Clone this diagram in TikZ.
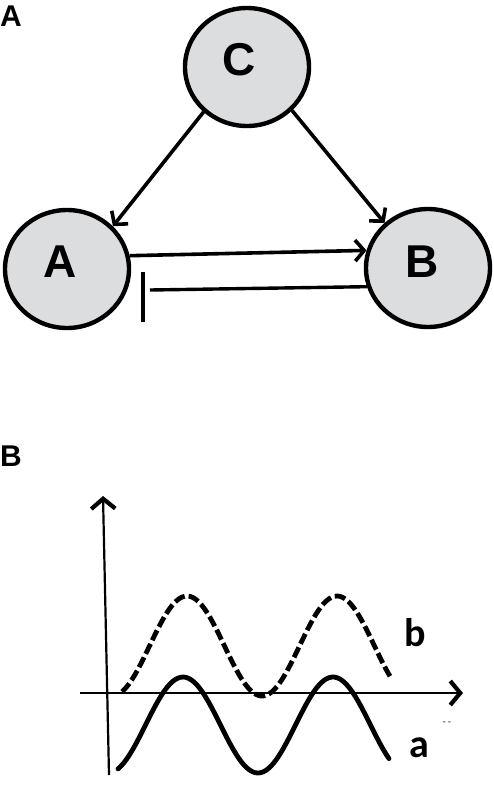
\documentclass[tikz,border=0pt]{standalone}
\usepackage{fontspec}
\setmainfont{Liberation Sans}
\newfontfamily\calfont{Carlito}
\usetikzlibrary{arrows.meta,shapes.geometric}
\definecolor{nodefill}{RGB}{220,221,223}
\tikzset{
  circ/.style={ellipse, draw=black, line width=4.4pt, fill=nodefill,
    minimum width=124pt, minimum height=118pt, inner sep=0pt},
  letter/.style={font=\fontsize{46}{46}\selectfont\bfseries, inner sep=0pt},
  panel/.style={font=\fontsize{30}{30}\selectfont\bfseries, inner sep=0pt, anchor=north west},
  conn/.style={line width=3.6pt, -{Straight Barb[length=9pt,width=21pt,line width=3.6pt]}},
  inhib/.style={line width=3.4pt},
  axis/.style={line width=2.2pt, -{Straight Barb[length=10pt,width=24pt,line width=4.2pt]}},
  curvea/.style={line width=4.8pt, line cap=round},
  curveb/.style={line width=4.8pt, dash pattern=on 11pt off 4pt},
  curvelab/.style={font=\calfont\fontsize{40}{40}\selectfont\bfseries, inner sep=0pt},
}
\begin{document}
\begin{tikzpicture}[x=1pt,y=-1pt]
\useasboundingbox (0,0) rectangle (494,788);
% Panel A
\node[panel] (pA) at (0,6) {A};
\node[circ, label={[letter,shift={(-8pt,7pt)}]center:C}] (C) at (247,67) {};
\node[circ, label={[letter,shift={(-7pt,7pt)}]center:A}] (A) at (67,269) {};
\node[circ, label={[letter,shift={(-6pt,6pt)}]center:B}] (B) at (428,268) {};
\draw[conn] (C.226) -- (A.43);
\draw[conn] (C.316) -- (B.134);
\draw[conn] (A.12) -- (B.164);
\coordinate (inh) at (150,290);
\coordinate (bt) at (143,272);
\coordinate (bb) at (143,322);
\draw[inhib] (B.197) -- (inh);
\draw[inhib] (bt) -- (bb);
% Panel B
\node[panel] (pB) at (0,446) {B};
\coordinate (yb) at (109,775);
\coordinate (yt) at (103,496);
\coordinate (xl) at (80,693);
\coordinate (xr) at (463,693);
\draw[axis] (yb) -- (yt);
\draw[axis] (xl) -- (xr);
\draw[curveb] plot[domain=122:392, samples=100, smooth] (\x, {646-50*cos(2.4*(\x-187))});
\draw[curvea] plot[domain=118:389, samples=100, smooth] (\x, {725-48*cos(2.4*(\x-183))});
\node[curvelab] (lb) at (415,633) {b};
\node[curvelab] (la) at (419,748) {a};
\node[font=\calfont\fontsize{11}{11}\selectfont, text=black!80, inner sep=0pt] (dd) at (447,724) {{-}\,{-}};
\end{tikzpicture}
\end{document}
